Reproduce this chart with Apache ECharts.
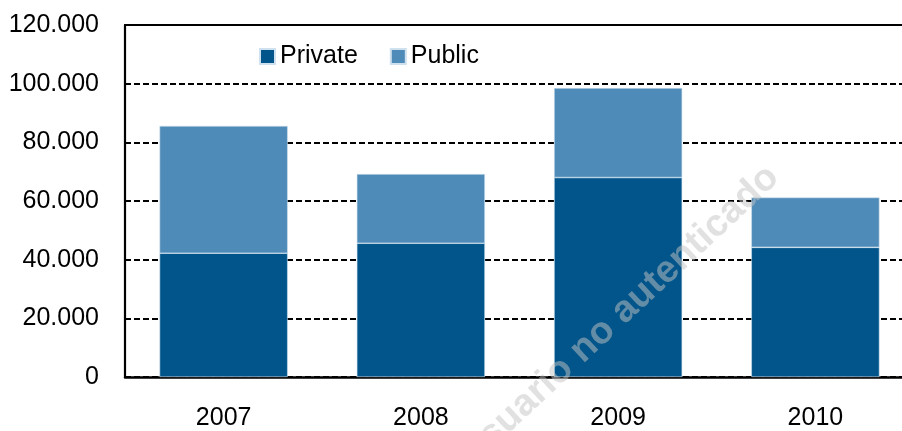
<!DOCTYPE html>
<html>
<head>
<meta charset="utf-8">
<script src="https://cdn.jsdelivr.net/npm/echarts@6/dist/echarts.min.js"></script>
<style>
html,body{margin:0;padding:0;background:#fff;overflow:hidden;width:902px;height:431px;}
#chart{width:914px;height:431px;}
</style>
</head>
<body>
<div id="chart"></div>
<script>
var categories = ['2007', '2008', '2009', '2010'];
var privateValues = [42200, 45600, 68000, 44200];
var publicValues = [43400, 23600, 30500, 17000];
var seriesNames = ['Private', 'Public'];
var watermarkText = 'Usuario no autenticado';

var FONT = "'Liberation Sans', Arial, sans-serif";
var chart = echarts.init(document.getElementById('chart'));

function fmt(v) {
  return String(v).replace(/\B(?=(\d{3})+(?!\d))/g, '.');
}

chart.setOption({
  animation: false,
  backgroundColor: '#ffffff',
  grid: { left: 125, right: 0, top: 25, bottom: 53, containLabel: false },
  legend: {
    data: seriesNames,
    left: 254, top: 39,
    itemWidth: 15, itemHeight: 15, itemGap: 32,
    icon: 'rect',
    textStyle: { fontFamily: FONT, fontSize: 25, color: '#000' }
  },
  xAxis: [{
    type: 'category',
    data: categories,
    axisLine: { show: true, lineStyle: { color: '#000', width: 2.5 } },
    axisTick: { show: false },
    axisLabel: { margin: 29, fontFamily: FONT, fontSize: 25, color: '#000' }
  }, {
    type: 'category',
    position: 'top',
    data: categories,
    axisLine: { show: true, lineStyle: { color: '#000', width: 2.2 } },
    axisTick: { show: false },
    axisLabel: { show: false }
  }],
  yAxis: {
    type: 'value',
    min: 0, max: 120000, interval: 20000,
    axisLine: { show: true, lineStyle: { color: '#000', width: 2.2 } },
    axisTick: { show: false },
    axisLabel: { margin: 26, fontFamily: FONT, fontSize: 25, color: '#000', formatter: fmt },
    splitLine: { show: true, lineStyle: { color: '#000', width: 2, type: [6, 3] } }
  },
  series: [{
    name: seriesNames[0],
    type: 'bar',
    stack: 'total',
    data: privateValues,
    barWidth: '65%',
    itemStyle: { color: '#02558A', borderColor: '#cfe0ee', borderWidth: 0.6 }
  }, {
    name: seriesNames[1],
    type: 'bar',
    stack: 'total',
    data: publicValues,
    barWidth: '65%',
    itemStyle: { color: '#4F8BB8', borderColor: '#cfe0ee', borderWidth: 0.6 }
  }],
  graphic: [{
    type: 'text',
    x: 619, y: 316,
    rotation: 43 * Math.PI / 180,
    z: 100,
    style: {
      text: watermarkText,
      fontFamily: FONT,
      fontWeight: 'bold',
      fontSize: 38,
      fill: 'rgba(195,195,195,0.5)',
      align: 'center',
      verticalAlign: 'middle'
    }
  }]
});
</script>
</body>
</html>
